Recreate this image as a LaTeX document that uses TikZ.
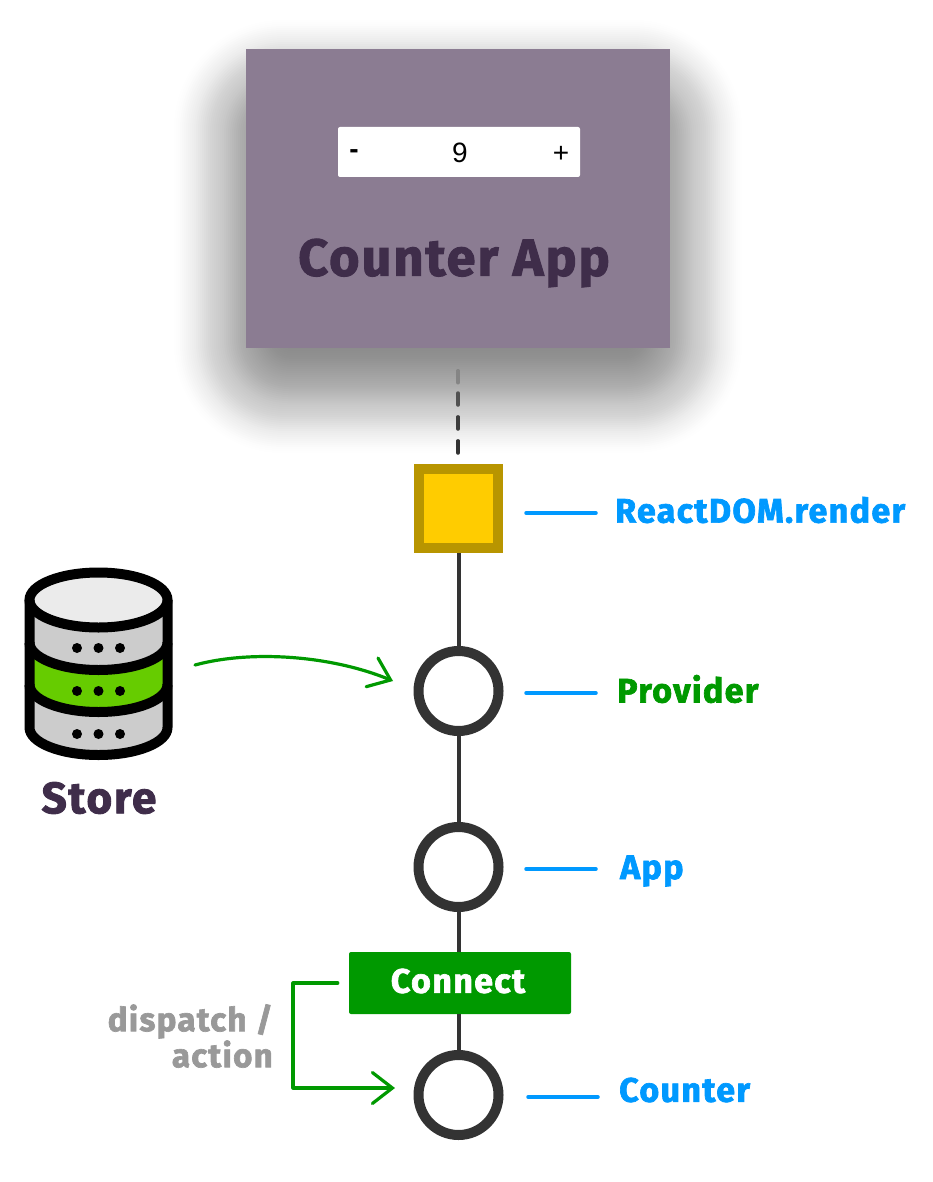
\documentclass[tikz,border=0pt]{standalone}
\usepackage{fontspec}
\newfontfamily\labelfont[LetterSpace=4,BoldFeatures={FakeBold=2}]{Fira Sans}
\newfontfamily\plainfont{Liberation Sans}
\usetikzlibrary{arrows.meta,positioning}
\definecolor{appbox}{HTML}{8B7C92}
\definecolor{plum}{HTML}{3F2D4A}
\definecolor{ring}{HTML}{333333}
\definecolor{rootfill}{HTML}{FFCC00}
\definecolor{rootedge}{HTML}{B89500}
\definecolor{okgreen}{HTML}{009900}
\definecolor{limeband}{HTML}{66CC00}
\definecolor{skyblue}{HTML}{0099FF}
\definecolor{dbgrey}{HTML}{CCCCCC}
\definecolor{dbtop}{HTML}{EBEBEB}
\definecolor{softgrey}{HTML}{999999}

\begin{document}
\begin{tikzpicture}[x=1pt,y=-1pt]
\tikzset{
    %Define standard arrow tip
    >={Straight Barb[length=20pt,width=31pt,line cap=round]},
    %Define style for the tree nodes
    circ/.style={
           circle,
           draw=ring,
           fill=white,
           line width=10pt,
           minimum size=80pt,
           inner sep=0pt},
    rootbox/.style={
           rectangle,
           draw=rootedge,
           fill=rootfill,
           line width=10pt,
           minimum size=79pt,
           inner sep=0pt},
    % Define line styles
    trunk/.style={draw=ring,line width=4pt},
    dashlink/.style={line width=3.5pt,line cap=round,dash pattern=on 12pt off 12pt},
    tick/.style={draw=skyblue,line width=3.5pt,line cap=round},
    pil/.style={->,draw=okgreen,line width=3.2pt,line cap=round,line join=round},
    % Define text styles
    lbl/.style={
           anchor=west,
           inner sep=0pt,
           font=\labelfont\bfseries\fontsize{34}{36}\selectfont},
    title/.style={
           inner sep=0pt,
           text=plum,
           font=\labelfont\bfseries\fontsize{52}{55}\selectfont},
    digit/.style={
           inner sep=0pt,
           text=black,
           font=\plainfont\fontsize{28}{30}\selectfont}
}
	\useasboundingbox (0,0) rectangle (932,1182);

 %shadow
	\foreach \k [evaluate=\k as \a using 0.004+0.01*sin(3*\k)] in {1,...,59}
		\fill[black,opacity=\a,rounded corners=110pt-1.8pt*\k] (172+2*\k,18+2*\k) rectangle (744-2*\k,455-2*\k);

 %app
	\node[rectangle,fill=appbox,minimum width=424pt,minimum height=299pt,inner sep=0pt] (app) at (458,198.5) {};
	\node[rectangle,fill=white,rounded corners=2pt,minimum width=242pt,minimum height=50pt,inner sep=0pt] (widget) at (459,152) {};
	\node[digit,font=\plainfont\bfseries\fontsize{28}{30}\selectfont] (minus) at (354,154) {-};
	\node[digit] (nine) at (460,153) {9};
	\node[digit] (plus) at (561,154) {+};
	\node[title] (apptitle) at (454,263) {Counter App};

 %tree
	\node[rootbox] (root) at (458.5,508.5) {};
	\node[circ] (provider) at (458.5,691) {};
	\node[circ] (appnode) at (458.5,867) {};
	\node[rectangle,fill=okgreen,rounded corners=2pt,minimum width=222pt,minimum height=62pt,inner sep=0pt] (connect) at (460,983) {};
	\node[text=white,inner sep=0pt,font=\labelfont\bfseries\fontsize{34}{36}\selectfont] (connectlbl) at (458,981) {Connect};
	\node[circ] (counter) at (458.5,1095) {};

	\draw[trunk] (root.south) -- (provider.north);
	\draw[trunk] (provider.south) -- (appnode.north);
	\draw[trunk] (appnode.south) -- (appnode.south |- connect.north);
	\draw[trunk] (counter.north |- connect.south) -- (counter.north);

 %dashes
	\coordinate (dashb) at (458,393);
	\coordinate (dashc) at (458,417);
	\coordinate (dashd) at (458,441);
	\draw[dashlink,draw=black!48,shorten <=22.5pt] (app.south -| dashb) -- (dashb);
	\draw[dashlink,draw=black!68] (dashb) -- (dashc);
	\draw[dashlink,draw=black!76] (dashc) -- (dashd);
	\draw[dashlink,draw=ring] (dashd) -- (root.north -| dashd);

 %labels
	\coordinate (roottick) at (526,513);
	\coordinate (providertick) at (526,693);
	\coordinate (apptick) at (526,869);
	\coordinate (countertick) at (528,1097);
	\draw[tick] (roottick) -- ++(70,0);
	\draw[tick] (providertick) -- ++(70,0);
	\draw[tick] (apptick) -- ++(70,0);
	\draw[tick] (countertick) -- ++(70,0);
	\node[lbl,text=skyblue] (rootlbl) at (615,510) {ReactDOM.render};
	\node[lbl,text=okgreen] (providerlbl) at (617,689) {Provider};
	\node[lbl,text=skyblue] (applbl) at (620,871) {App};
	\node[lbl,text=skyblue] (counterlbl) at (619,1090) {Counter};

 %store
	\fill[dbgrey] (29.5,600) arc[start angle=180,end angle=0,x radius=69pt,y radius=27.5pt]
		-- (167.5,727.5) arc[start angle=360,end angle=180,x radius=69pt,y radius=27.5pt] -- cycle;
	\fill[limeband] (29.5,642.5) arc[start angle=180,end angle=360,x radius=69pt,y radius=27.5pt]
		-- (167.5,684.5) arc[start angle=360,end angle=180,x radius=69pt,y radius=27.5pt] -- cycle;
	\draw[black,line width=10pt,fill=dbtop] (98.5,600) ellipse[x radius=69pt,y radius=27.5pt];
	\draw[black,line width=10pt] (29.5,642.5) arc[start angle=180,end angle=360,x radius=69pt,y radius=27.5pt];
	\draw[black,line width=10pt] (29.5,684.5) arc[start angle=180,end angle=360,x radius=69pt,y radius=27.5pt];
	\draw[black,line width=10pt,line join=round] (29.5,600) -- (29.5,727.5)
		arc[start angle=180,end angle=360,x radius=69pt,y radius=27.5pt] -- (167.5,600);
	\foreach \y in {648,691,734}
		\foreach \x in {77,98.5,120}
			\fill[black] (\x,\y) circle[radius=5pt];
	\node[title,font=\labelfont\bfseries\fontsize{44}{46}\selectfont] (store) at (99,798) {Store};

 %green arrows
	\coordinate (storeout) at (195,665);
	\coordinate (storein) at (393,681);
	\draw[pil] (storeout) .. controls (250,650) and (330,655) .. (storein);

	\coordinate (bend) at (293,983);
	\coordinate (counterin) at (395,1088);
	\draw[pil,shorten <=11pt] (connect.west) -- (bend) |- (counterin);

	\node[inner sep=0pt,anchor=east,align=right,text=softgrey,
		font=\labelfont\bfseries\fontsize{33}{36}\selectfont] (dispatch) at (273,1036) {dispatch /\\action};
\end{tikzpicture}
\end{document}
